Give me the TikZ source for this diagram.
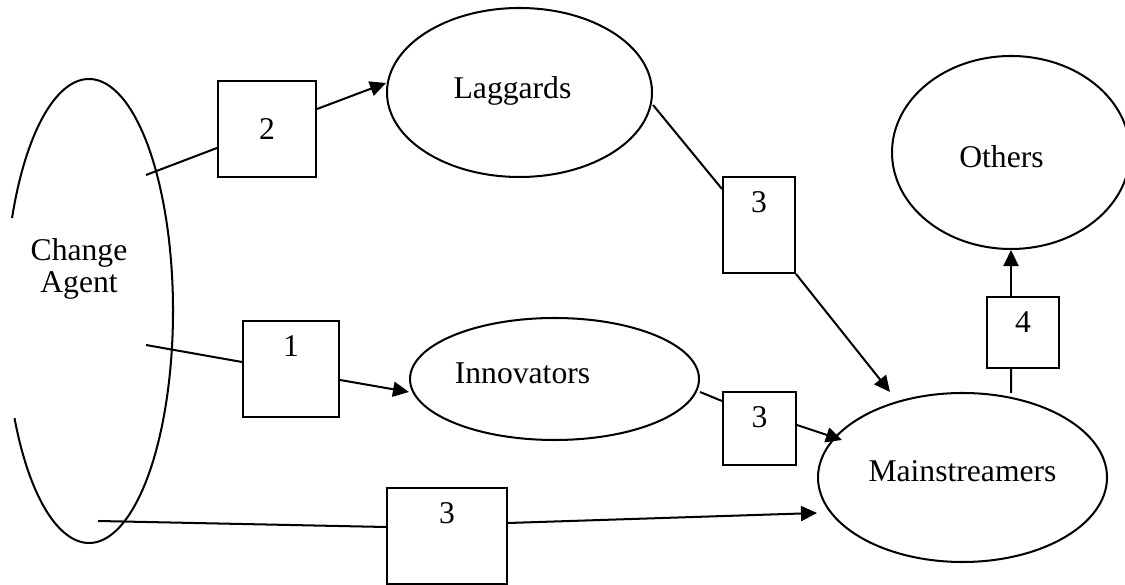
\documentclass[tikz,border=0pt]{standalone}
\usepackage{fontspec}
\setmainfont{Liberation Serif}
\usetikzlibrary{shapes.geometric, arrows.meta}

\begin{document}
\begin{tikzpicture}[
    font=\fontsize{18}{18}\selectfont,
    >={Triangle[length=0.32cm, width=0.3cm]},
    % Styles for the adopter groups and the numbered stages
    group/.style={draw, ellipse, line width=1.15pt, inner sep=0pt},
    stagebox/.style={draw, rectangle, line width=1.15pt, inner sep=0pt},
    digit/.style={label={[anchor=north, yshift=-0.19cm]north:#1}},
    link/.style={line width=1.15pt},
    arrow/.style={->, line width=1.15pt}
]
\useasboundingbox (0,0) rectangle (22.5,11.7);

% ----------------------------------------------------
% Change Agent (left, open on its left side)
% ----------------------------------------------------
\node[ellipse, minimum width=3.36cm, minimum height=9.28cm, inner sep=0pt,
    label={[align=center, xshift=-0.2cm, yshift=0.84cm]center:Change\\Agent}] (agent) at (1.78, 5.48) {};
\draw[link] ([shift={(-152.5:1.68cm and 4.64cm)}]agent.center)
    arc[start angle=-152.5, end angle=156.4, x radius=1.68cm, y radius=4.64cm];

\coordinate (agent2) at (2.92, 8.20);
\coordinate (agent1) at (2.92, 4.80);
\coordinate (agent3) at (1.96, 1.28);

% ----------------------------------------------------
% Adopter groups
% ----------------------------------------------------
\node[group, minimum width=5.30cm, minimum height=3.38cm,
    label={[xshift=-0.14cm, yshift=0.03cm]center:Laggards}] (laggards) at (10.39, 9.85) {};
\node[group, minimum width=5.78cm, minimum height=2.44cm,
    label={[xshift=-0.64cm, yshift=0.11cm]center:Innovators}] (innovators) at (11.09, 4.12) {};
\node[group, minimum width=5.78cm, minimum height=3.38cm,
    label={[yshift=0.13cm]center:Mainstreamers}] (mainstr) at (19.25, 2.15) {};
\node[group, minimum width=4.76cm, minimum height=3.86cm,
    label={[xshift=-0.19cm, yshift=-0.09cm]center:Others}] (others) at (20.22, 8.65) {};

% ----------------------------------------------------
% Numbered stages
% ----------------------------------------------------
\node[stagebox, minimum width=1.96cm, minimum height=1.92cm] (box2) at (5.34, 9.12) {2};
\node[stagebox, digit=1, minimum width=1.92cm, minimum height=1.92cm] (box1) at (5.82, 4.32) {};
\node[stagebox, digit=3, minimum width=2.40cm, minimum height=1.92cm] (box3a) at (8.94, 0.98) {};
\node[stagebox, digit=3, minimum width=1.44cm, minimum height=1.92cm] (box3u) at (15.18, 7.20) {};
\node[stagebox, digit=3, minimum width=1.46cm, minimum height=1.46cm] (box3m) at (15.19, 3.13) {};
\node[stagebox, digit=4, minimum width=1.44cm, minimum height=1.42cm] (box4) at (20.46, 5.05) {};

% ----------------------------------------------------
% Connections
% ----------------------------------------------------
\draw[link] (agent2) -- ([yshift=-0.38cm]box2.west);
\draw[arrow] ([yshift=0.40cm]box2.east) -- ([yshift=0.19cm]laggards.west);

\draw[link] (agent1) -- ([yshift=0.14cm]box1.west);
\draw[arrow] ([yshift=-0.22cm]box1.east) -- ([yshift=-0.26cm]innovators.west);

\draw[link] (agent3) -- ([yshift=0.18cm]box3a.west);
\draw[arrow] ([yshift=0.26cm]box3a.east) -- ([yshift=-0.71cm]mainstr.west);

\draw[link] ([yshift=-0.25cm]laggards.east) -- ([yshift=-0.26cm]box3u.north west);
\draw[arrow] (box3u.south east) -- ([shift={(-1.45,1.71)}]mainstr.center);

\draw[link] ([yshift=-0.26cm]innovators.east) -- ([yshift=0.55cm]box3m.west);
\draw[arrow] ([yshift=0.07cm]box3m.east) -- ([shift={(-2.41,0.75)}]mainstr.center);

\draw[link] ([shift={(0.97,1.69)}]mainstr.center) -- ([xshift=-0.24cm]box4.south);
\draw[arrow] ([xshift=-0.24cm]box4.north) -- (others.south);

\end{tikzpicture}
\end{document}
